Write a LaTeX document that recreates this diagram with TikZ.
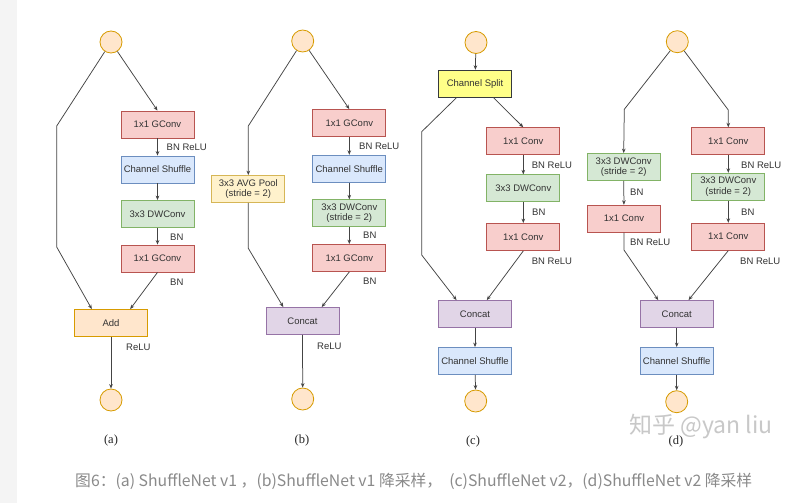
\documentclass[tikz,border=0pt]{standalone}
\usepackage{fontspec}
\setmainfont{Liberation Sans}
\newfontfamily\serifl{Liberation Serif}
\newfontfamily\cjk{Noto Sans CJK SC}
\usetikzlibrary{arrows.meta,calc}
\definecolor{pinkF}{HTML}{F8CECC}\definecolor{pinkD}{HTML}{B85450}
\definecolor{blueF}{HTML}{DAE8FC}\definecolor{blueD}{HTML}{6C8EBF}
\definecolor{greenF}{HTML}{D5E8D4}\definecolor{greenD}{HTML}{82B366}
\definecolor{orF}{HTML}{FFE6CC}\definecolor{orD}{HTML}{D79B00}
\definecolor{yelF}{HTML}{FFF2CC}\definecolor{yelD}{HTML}{D6B656}
\definecolor{purF}{HTML}{E1D5E7}\definecolor{purD}{HTML}{9673A6}
\definecolor{splitF}{HTML}{FFFF88}\definecolor{splitD}{HTML}{36393D}
\definecolor{txt}{HTML}{333333}
\definecolor{edge}{HTML}{444444}
\definecolor{strip}{HTML}{F4F4F4}
\definecolor{capc}{HTML}{8A8A8A}
\definecolor{wm}{HTML}{C8C8C8}
\begin{document}
\begin{tikzpicture}[x=1pt,y=-1pt,
 box/.style={draw,line width=0.8pt,minimum width=73pt,minimum height=27pt,inner sep=1pt,
   font=\fontsize{9.5}{10.5}\selectfont,text=txt,align=center},
 pinkbox/.style={box,fill=pinkF,draw=pinkD},
 bluebox/.style={box,fill=blueF,draw=blueD},
 greenbox/.style={box,fill=greenF,draw=greenD},
 addbox/.style={box,fill=orF,draw=orD},
 poolbox/.style={box,fill=yelF,draw=yelD},
 catbox/.style={box,fill=purF,draw=purD},
 splitbox/.style={box,fill=splitF,draw=splitD},
 io/.style={circle,minimum size=22pt,inner sep=0pt,fill=orF,draw=orD,line width=0.8pt},
 arr/.style={draw=edge,line width=0.75pt,-{Stealth[length=4.5pt,width=3.6pt]}},
 lab/.style={anchor=west,inner sep=0pt,font=\fontsize{9.5}{10}\selectfont,text=txt},
 sub/.style={inner sep=0pt,font=\serifl\fontsize{12.5}{14}\selectfont,text=black!85},
]
\path[use as bounding box,fill=white] (0,0) rectangle (803,503);
\fill[strip] (0,0) rectangle (17,503);

% ---------------- (a)
\node[io] (a0) at (111,42) {};
\node[pinkbox] (a1) at (157.5,124.5) {1x1 GConv};
\node[bluebox] (a2) at (157.5,169.5) {Channel Shuffle};
\node[greenbox] (a3) at (157.5,214) {3x3 DWConv};
\node[pinkbox] (a4) at (157.5,258.5) {1x1 GConv};
\node[addbox] (aadd) at (111,323) {Add};
\node[io] (a5) at (111,400) {};
\coordinate (ak1) at (56.7,126);
\coordinate (ak2) at (56.7,247);
\draw[arr] (a0) -- (a1.north);
\draw[arr] (a0) -- (ak1) -- (ak2) -- ($(aadd.north west)!0.24!(aadd.north east)$);
\draw[arr] (a1) -- (a2);
\draw[arr] (a2) -- (a3);
\draw[arr] (a3) -- (a4);
\draw[arr] (a4.south) -- ($(aadd.north west)!0.76!(aadd.north east)$);
\draw[arr] (aadd) -- (a5);
\node[lab] (al1) at (166.5,147) {BN ReLU};
\node[lab] (al2) at (170,237) {BN};
\node[lab] (al3) at (170,282) {BN};
\node[lab] (al4) at (126,347) {ReLU};
\node[sub] (acap) at (111,440) {(a)};

% ---------------- (b)
\node[io] (b0) at (302.7,41) {};
\node[pinkbox] (b1) at (349.3,123) {1x1 GConv};
\node[bluebox] (b2) at (349.3,168.7) {Channel Shuffle};
\node[greenbox] (b3) at (349.3,213.3) {3x3 DWConv\\(stride = 2)};
\node[pinkbox] (b4) at (349.3,258) {1x1 GConv};
\node[poolbox] (bp) at (248.3,189) {3x3 AVG Pool\\(stride = 2)};
\node[catbox] (bc) at (302.5,321) {Concat};
\node[io] (b5) at (302.7,399) {};
\coordinate (bk1) at (248.3,126);
\coordinate (bk2) at (248.3,248.3);
\draw[arr] (b0) -- (b1.north);
\draw[arr] (b0) -- (bk1) -- (bp.north);
\draw[arr] (bp.south) -- (bk2) -- ($(bc.north west)!0.24!(bc.north east)$);
\draw[arr] (b1) -- (b2);
\draw[arr] (b2) -- (b3);
\draw[arr] (b3) -- (b4);
\draw[arr] (b4.south) -- ($(bc.north west)!0.76!(bc.north east)$);
\draw[arr] (bc) -- (b5);
\node[lab] (bl1) at (359,146) {BN ReLU};
\node[lab] (bl2) at (363,235) {BN};
\node[lab] (bl3) at (363,281) {BN};
\node[lab] (bl4) at (317,346) {ReLU};
\node[sub] (bcap) at (302,440) {(b)};

% ---------------- (c)
\node[io] (c0) at (476,42.5) {};
\node[splitbox] (cs) at (475,83.7) {Channel Split};
\node[pinkbox] (c1) at (523.3,141.2) {1x1 Conv};
\node[greenbox] (c2) at (523.3,188.3) {3x3 DWConv};
\node[pinkbox] (c3) at (523.3,237) {1x1 Conv};
\node[catbox] (cc) at (475,314) {Concat};
\node[bluebox] (ch) at (475,361) {Channel Shuffle};
\node[io] (c5) at (475.7,401) {};
\coordinate (ck1) at (421.7,131.7);
\coordinate (ck2) at (421.7,255);
\draw[arr] (c0) -- (cs);
\draw[arr] ($(cs.south west)!0.75!(cs.south east)$) -- (c1.north);
\draw[arr] ($(cs.south west)!0.25!(cs.south east)$) -- (ck1) -- (ck2) -- ($(cc.north west)!0.25!(cc.north east)$);
\draw[arr] (c1) -- (c2);
\draw[arr] (c2) -- (c3);
\draw[arr] (c3.south) -- ($(cc.north west)!0.66!(cc.north east)$);
\draw[arr] (cc) -- (ch);
\draw[arr] (ch) -- (c5);
\node[lab] (cl1) at (531.7,165.7) {BN ReLU};
\node[lab] (cl2) at (532,212.3) {BN};
\node[lab] (cl3) at (531.7,261) {BN ReLU};
\node[sub] (ccap) at (473,441) {(c)};

% ---------------- (d)
\node[io] (d0) at (677.3,41.7) {};
\node[greenbox] (dl1) at (623.7,167) {3x3 DWConv\\(stride = 2)};
\node[pinkbox] (dl2) at (624,218.7) {1x1 Conv};
\node[pinkbox] (dr1) at (728.3,141.2) {1x1 Conv};
\node[greenbox] (dr2) at (728.3,186.7) {3x3 DWConv\\(stride = 2)};
\node[pinkbox] (dr3) at (728.3,236.7) {1x1 Conv};
\node[catbox] (dc) at (676.7,314) {Concat};
\node[bluebox] (dh) at (676.7,361) {Channel Shuffle};
\node[io] (d5) at (676.7,401.7) {};
\coordinate (dk1) at (624.3,109.3);
\coordinate (dk2) at (728.3,110);
\coordinate (dk3) at (624,250);
\draw[arr] (d0) -- (dk1) -- (dl1.north);
\draw[arr] (d0) -- (dk2) -- (dr1.north);
\draw[arr] (dl1) -- (dl2);
\draw[arr] (dl2.south) -- (dk3) -- ($(dc.north west)!0.25!(dc.north east)$);
\draw[arr] (dr1) -- (dr2);
\draw[arr] (dr2) -- (dr3);
\draw[arr] (dr3.south) -- ($(dc.north west)!0.66!(dc.north east)$);
\draw[arr] (dc) -- (dh);
\draw[arr] (dh) -- (d5);
\node[lab] (dl1t) at (741,165.7) {BN ReLU};
\node[lab] (dl2t) at (630,192.3) {BN};
\node[lab] (dl3t) at (741,212.3) {BN};
\node[lab] (dl4t) at (630,242.3) {BN ReLU};
\node[lab] (dl5t) at (740,261) {BN ReLU};
\node[sub] (dcap) at (676,441) {(d)};

% watermark and caption
\node[anchor=west,inner sep=0pt,text=wm,font=\cjk\fontsize{23}{25}\selectfont] (wmk) at (629,427) {知乎 @yan liu};
\node[anchor=west,inner sep=0pt,text=capc,font=\cjk\fontsize{15.8}{17}\selectfont] (cap) at (75,481)
 {图6：(a) ShuffleNet v1 ，(b)ShuffleNet v1 降采样，\ \ (c)ShuffleNet v2，(d)ShuffleNet v2 降采样};
\end{tikzpicture}
\end{document}
